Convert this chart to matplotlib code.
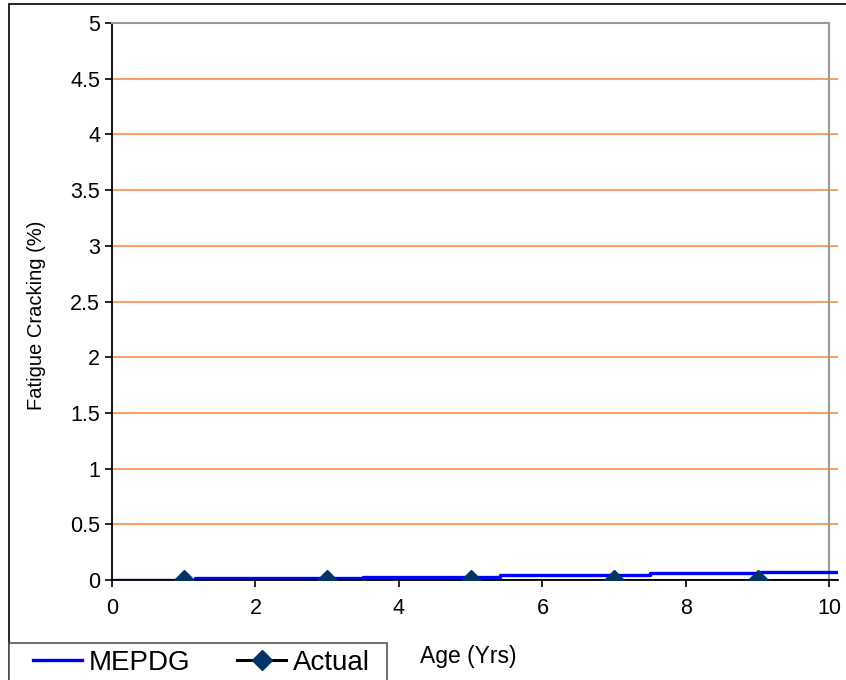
import matplotlib.pyplot as plt
from matplotlib.patches import Rectangle

plt.rcParams['font.family'] = ['Liberation Sans', 'DejaVu Sans']

# MEPDG prediction (stepwise), age in years / cracking in %
mepdg_age = [0, 1.16, 3.5, 5.41, 7.5, 9.05, 11]
mepdg_crack = [0.0, 0.015, 0.03, 0.045, 0.06, 0.075, 0.075]

# measured values
actual_age = [1, 3, 5, 7, 9, 11]
actual_crack = [0, 0, 0, 0, 0, 0]

yticks = [0, 0.5, 1, 1.5, 2, 2.5, 3, 3.5, 4, 4.5, 5]
ytick_labels = ['0', '0.5', '1', '1.5', '2', '2.5', '3', '3.5', '4', '4.5', '5']
xticks = [0, 2, 4, 6, 8, 10]


def main():
    fig = plt.figure(figsize=(8.46, 6.8), dpi=100)
    ax = fig.add_axes([112 / 846, 1 - 580 / 680, 726 / 846, 557 / 680])

    # outer chart border
    fig.patches.append(Rectangle((9 / 846, -0.1), 1.2, 0.1 + 676 / 680,
                                 transform=fig.transFigure, fill=False,
                                 edgecolor='black', linewidth=1.2, zorder=0))
    # legend box
    fig.patches.append(Rectangle((9 / 846, -0.1), 378 / 846, 0.1 + 37 / 680,
                                 transform=fig.transFigure, facecolor='white',
                                 edgecolor='#555555', linewidth=1.2, zorder=1))

    for y in yticks[1:-1]:
        ax.axhline(y, color='#F9822F', linewidth=1.1, zorder=1)
    ax.plot([10, 10], [0, 5], color='#999999', linewidth=1.5, zorder=1)

    ax.plot(actual_age, actual_crack, color='black', linewidth=2.2,
            marker='D', markersize=10, markerfacecolor='#003366',
            markeredgecolor='#003366', label='Actual', zorder=3)
    ax.plot(mepdg_age, mepdg_crack, color='#0000FF', linewidth=2.4,
            drawstyle='steps-post', label='MEPDG', zorder=2)

    ax.set_xlim(0, 10.12)
    ax.set_ylim(0, 5)
    ax.set_xticks(xticks)
    ax.set_yticks(yticks)
    ax.set_yticklabels(ytick_labels)
    ax.tick_params(labelsize=15.5, direction='out', length=5, width=1.2)
    ax.tick_params(axis='x', pad=8)

    ax.spines['right'].set_visible(False)
    ax.spines['top'].set_color('#999999')
    ax.spines['top'].set_linewidth(1.5)
    ax.spines['top'].set_bounds(0, 10)
    ax.spines['left'].set_linewidth(1.3)
    ax.spines['bottom'].set_linewidth(1.3)

    fig.text(37 / 846, 1 - 315 / 680, 'Fatigue Cracking (%)', fontsize=14.5,
             rotation=90, ha='center', va='center')
    fig.text(468 / 846, 1 - 656 / 680, 'Age (Yrs)', fontsize=16.5,
             ha='center', va='center')

    handles, labels = ax.get_legend_handles_labels()
    fig.legend(handles[::-1], labels[::-1], ncol=2,
               loc='upper left', bbox_to_anchor=(33 / 846, 1 - 650 / 680),
               fontsize=20, frameon=False, handlelength=1.75,
               handletextpad=0.25, columnspacing=1.7, borderpad=0,
               borderaxespad=0)

    fig.savefig('out.png', dpi=100)


if __name__ == '__main__':
    main()
